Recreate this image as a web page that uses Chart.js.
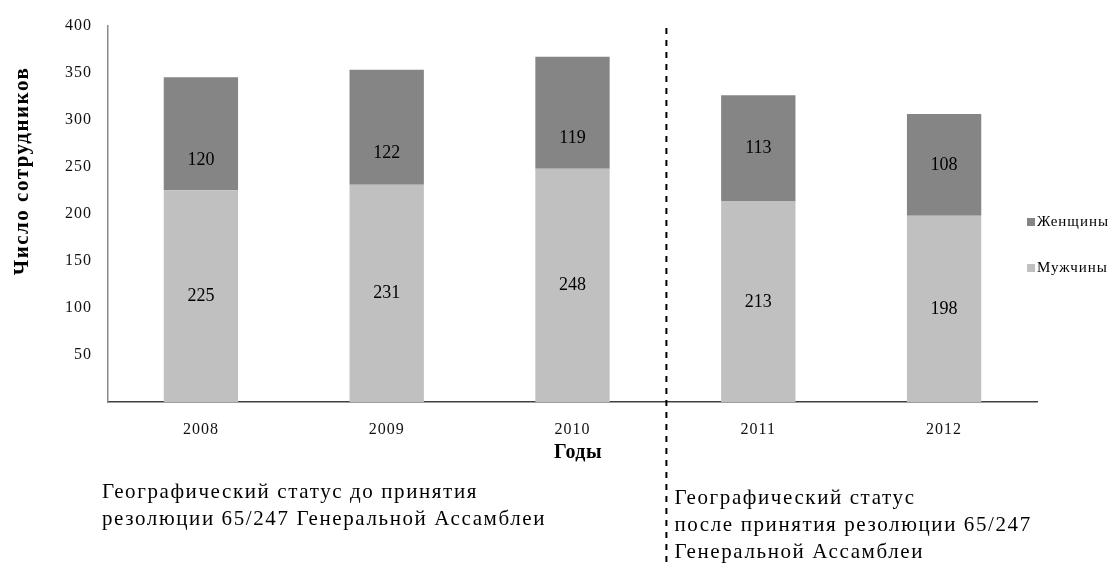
<!DOCTYPE html>
<html>
<head>
<meta charset="utf-8">
<script src="https://cdn.jsdelivr.net/npm/chart.js@4.4.1/dist/chart.umd.min.js"></script>
<style>
  html, body { margin: 0; padding: 0; background: #fff; overflow: hidden; }
  #wrap { width: 1115px; height: 563px; position: relative; }
</style>
</head>
<body>
<div id="wrap"><canvas id="c"></canvas></div>
<script>
// data
const years = ['2008', '2009', '2010', '2011', '2012'];
const men = [225, 231, 248, 213, 198];
const women = [120, 122, 119, 113, 108];
const yTicks = [50, 100, 150, 200, 250, 300, 350, 400];
const splitAfter = '2010';
const yTitle = 'Число сотрудников';
const xTitle = 'Годы';
const noteBefore = ['Географический статус до принятия', 'резолюции 65/247 Генеральной Ассамблеи'];
const noteAfter = ['Географический статус', 'после принятия резолюции 65/247', 'Генеральной Ассамблеи'];

const serif = '"Liberation Serif", "Times New Roman", serif';
const colMen = '#c0c0c0';
const colWomen = '#858585';

function text(ctx, s, x, y, font, align, spacing) {
  ctx.save();
  ctx.font = font;
  ctx.letterSpacing = (spacing || 0) + 'px';
  ctx.fillStyle = '#000';
  ctx.textAlign = align || 'left';
  ctx.textBaseline = 'middle';
  ctx.fillText(s, x, y);
  ctx.restore();
}

const extras = {
  id: 'extras',
  beforeDraw(chart) {
    chart.ctx.letterSpacing = '1px';
  },
  afterDraw(chart) {
    const ctx = chart.ctx;
    const x = chart.scales.x;
    const split = years.indexOf(splitAfter);

    // values inside the bars
    chart.data.datasets.forEach((ds, di) => {
      chart.getDatasetMeta(di).data.forEach((bar, i) => {
        const top = Math.min(bar.y, bar.base), bot = Math.max(bar.y, bar.base);
        const frac = (di === 1 && i <= split) ? 0.73 : 0.5;
        text(ctx, String(ds.data[i]), bar.x, top + (bot - top) * frac, '18px ' + serif, 'center', 0);
      });
    });

    // dashed divider
    const xd = (x.getPixelForValue(split) + x.getPixelForValue(split + 1)) / 2 + 1;
    ctx.save();
    ctx.strokeStyle = '#000';
    ctx.lineWidth = 2;
    ctx.setLineDash([6, 6]);
    ctx.beginPath();
    ctx.moveTo(xd, 28);
    ctx.lineTo(xd, chart.height);
    ctx.stroke();
    ctx.restore();

    // axis titles
    ctx.save();
    ctx.translate(23, 171);
    ctx.rotate(-Math.PI / 2);
    text(ctx, yTitle, 0, 0, 'bold 21px ' + serif, 'center', 1.5);
    ctx.restore();
    text(ctx, xTitle, 578, 453, 'bold 20px ' + serif, 'center', 0.5);

    // legend (women on top)
    [1, 0].forEach((di, k) => {
      const ds = chart.data.datasets[di];
      const cy = 222 + k * 46;
      ctx.fillStyle = ds.backgroundColor;
      ctx.fillRect(1027, cy - 4, 8, 8);
      text(ctx, ds.label, 1037, cy, '15px ' + serif, 'left', 1);
    });

    // notes under the chart
    noteBefore.forEach((s, i) => text(ctx, s, 102, 492 + i * 27, '21px ' + serif, 'left', 1.6));
    noteAfter.forEach((s, i) => text(ctx, s, xd + 8, 498 + i * 27, '21px ' + serif, 'left', 1.6));
  }
};

new Chart(document.getElementById('c'), {
  type: 'bar',
  data: {
    labels: years,
    datasets: [
      { label: 'Мужчины', data: men, backgroundColor: colMen },
      { label: 'Женщины', data: women, backgroundColor: colWomen }
    ]
  },
  options: {
    responsive: true,
    maintainAspectRatio: false,
    animation: false,
    events: [],
    datasets: { bar: { categoryPercentage: 0.8, barPercentage: 0.5 } },
    layout: { padding: { left: 0, right: 78, top: 22, bottom: 0 } },
    plugins: { legend: { display: false }, tooltip: { enabled: false } },
    scales: {
      x: {
        stacked: true,
        grid: { display: false, drawTicks: false },
        border: { color: '#3f3f3f', width: 1.5 },
        ticks: { color: '#111', font: { family: serif, size: 16 }, padding: 18, maxRotation: 0 },
        afterFit: s => { s.height = 161; }
      },
      y: {
        stacked: true,
        min: 0,
        max: 400,
        grid: { display: false, drawTicks: false },
        border: { color: '#8a8a8a', width: 1.5 },
        ticks: { color: '#111', font: { family: serif, size: 16 }, padding: 16 },
        afterBuildTicks: s => { s.ticks = yTicks.map(v => ({ value: v })); },
        afterFit: s => { s.width = 108; }
      }
    }
  },
  plugins: [extras]
});
</script>
</body>
</html>
